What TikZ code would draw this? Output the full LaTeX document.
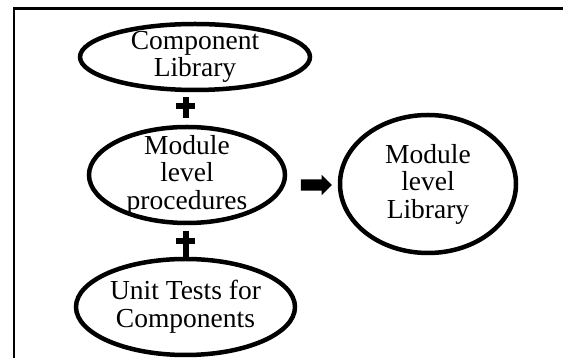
\documentclass[tikz,border=0pt]{standalone}
\usepackage{fontspec}
\setmainfont{Liberation Serif}
\usetikzlibrary{shapes.geometric,shapes.arrows}
\begin{document}
\begin{tikzpicture}[x=1pt,y=1pt,
  blob/.style={ellipse, draw, line width=4.5pt, inner sep=0pt},
  lbl/.style={align=center, inner sep=0pt,
    font=\fontsize{27.5}{27.5}\selectfont},
  blockarrow/.style={single arrow, fill=black, inner xsep=0pt,
    inner ysep=5.5pt, single arrow head extend=4.5pt,
    minimum height=31pt},
  plusbar/.style={fill=black}]
\useasboundingbox (0,0) rectangle (563,358);

% frame
\draw[line width=2.5pt] (14,0) -- (14,349.5) -- (563,349.5);

% ellipses
\node[blob, minimum width=230pt, minimum height=66pt] (comp) at (195,301) {};
\node[lbl] at (comp) {Component\\Library};

\node[blob, minimum width=196pt, minimum height=96pt] (proc) at (187,183) {};
\node[lbl] at (proc) {Module\\level\\procedures};

\node[blob, minimum width=219pt, minimum height=96pt] (tests) at (185.5,51) {};
\node[lbl] at (tests) {Unit Tests for\\Components};

\node[blob, minimum width=176pt, minimum height=138pt] (mlib) at (428,174) {};
\node[lbl] at (mlib) {Module\\level\\Library};

% plus signs
\fill[plusbar] (176,249) rectangle (195,255);
\fill[plusbar] (183,240) rectangle (189,261);
\fill[plusbar] (176,114) rectangle (195,120);
\fill[plusbar] (183,101) rectangle (189,127);

% block arrow
\node[blockarrow] (arr) at (313.5,173) {};
\end{tikzpicture}
\end{document}
